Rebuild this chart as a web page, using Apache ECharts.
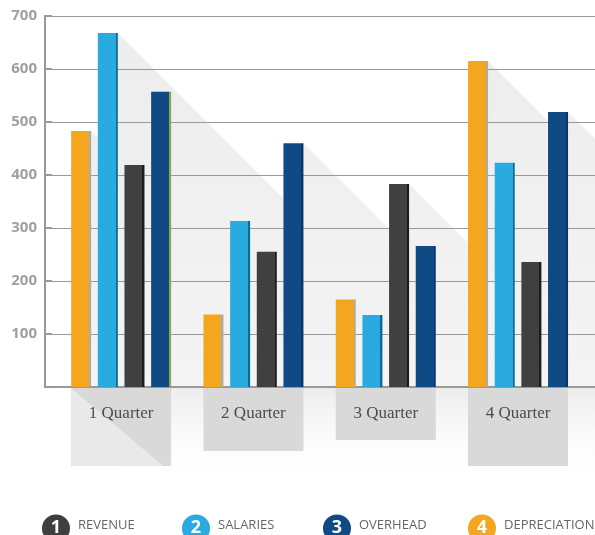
<!DOCTYPE html>
<html>
<head>
<meta charset="utf-8">
<script src="https://cdn.jsdelivr.net/npm/echarts@6/dist/echarts.min.js"></script>
<style>
html,body{margin:0;padding:0;background:#fff;}
#chart{width:595px;height:535px;}
</style>
</head>
<body>
<div id="chart"></div>
<script>
// ---- data ----
var categories = ['1 Quarter', '2 Quarter', '3 Quarter', '4 Quarter'];
var depreciation = [483, 137, 165, 615];
var salaries = [668, 313, 136, 423];
var revenue = [419, 255, 383, 236];
var overhead = [557, 460, 266, 519];
var yTicks = [0, 100, 200, 300, 400, 500, 600, 700];
var legendNames = ['REVENUE', 'SALARIES', 'OVERHEAD', 'DEPRECIATION'];

// ---- styles ----
var barOrder = [
  { name: 'DEPRECIATION', data: depreciation, color: '#F4A61F', side: '#ababab' },
  { name: 'SALARIES', data: salaries, color: '#29ABE2', side: '#0d6a92' },
  { name: 'REVENUE', data: revenue, color: '#404040', side: '#1c1c1c' },
  { name: 'OVERHEAD', data: overhead, color: '#0F4A84', side: '#0a3566' }
];
var legendColors = { REVENUE: '#3f3f3f', SALARIES: '#29ABE2', OVERHEAD: '#0F4A84', DEPRECIATION: '#F4A61F' };
var legendLeft = [56, 196, 337, 482];
var BAR_W = 20, BAR_GAP = 20 / 3;
var boxDepth = [78, 63, 52, 78];
var boxFold = [true, false, false, false];

function sideGrad(c, s) {
  return { type: 'linear', x: 0, y: 0, x2: 1, y2: 0,
    colorStops: [{ offset: 0, color: c }, { offset: 0.9, color: c }, { offset: 0.9, color: s }, { offset: 1, color: s }] };
}

var shadowData = [];
barOrder.forEach(function (b, s) {
  b.data.forEach(function (v, i) { shadowData.push([i, v, s]); });
});

var series = [];
series.push({
  name: 'shadow', type: 'custom', xAxisIndex: 1, yAxisIndex: 1, z: -1, clip: false, silent: true,
  data: shadowData,
  renderItem: function (params, api) {
    var i = api.value(0), v = api.value(1), s = api.value(2);
    var top = api.coord([i, v]);
    var base = api.coord([i, 0]);
    var off = (s - 1.5) * (BAR_W + BAR_GAP);
    var xr = top[0] + off + BAR_W / 2;
    var h = base[1] - top[1];
    return {
      type: 'polygon',
      shape: { points: [[xr, top[1]], [xr + h, base[1]], [xr, base[1]]] },
      style: { fill: { type: 'linear', x: 0, y: 16, x2: 0, y2: 387, global: true,
        colorStops: [{ offset: 0, color: '#ececec' }, { offset: 1, color: '#f4f4f4' }] } }
    };
  }
});
series.push({
  name: 'boxes', type: 'custom', xAxisIndex: 1, yAxisIndex: 1, z: 1, clip: false, silent: true,
  data: categories.map(function (c, i) { return [i, 0]; }),
  renderItem: function (params, api) {
    var i = api.value(0);
    var p = api.coord([i, 0]);
    var x0 = p[0] - 50, y0 = p[1] + 1, d = boxDepth[i];
    var children = [{
      type: 'rect', shape: { x: x0, y: y0, width: 100, height: d },
      style: { fill: '#d9d9d9' }
    }];
    if (boxFold[i]) {
      children.push({
        type: 'polygon', shape: { points: [[x0, y0], [x0 + 92, y0 + d], [x0, y0 + d]] },
        style: { fill: '#e9e9e9' }
      });
    }
    children.push({
      type: 'text', x: p[0], y: y0 + 26,
      style: { text: categories[i], align: 'center', verticalAlign: 'middle',
        fontFamily: 'Liberation Serif', fontSize: 17, fill: '#4d4d4d' }
    });
    return { type: 'group', children: children };
  }
});
barOrder.forEach(function (b, s) {
  series.push({
    name: b.name, type: 'bar', xAxisIndex: 1, yAxisIndex: 1,
    barWidth: BAR_W, barGap: '33.3%',
    itemStyle: { color: sideGrad(b.color, b.side) },
    data: b.data.map(function (v, i) {
      if (b.name === 'OVERHEAD' && i === 0) {
        return { value: v, itemStyle: { color: sideGrad(b.color, '#8aa84b') } };
      }
      return v;
    })
  });
});

var graphics = [{
  type: 'rect', z: -10, silent: true,
  shape: { x: 120, y: 388, width: 475, height: 95 },
  style: { fill: { type: 'linear', x: 0, y: 0, x2: 0, y2: 1,
    colorStops: [{ offset: 0, color: '#ececec' }, { offset: 1, color: 'rgba(255,255,255,0)' }] } }
}];
legendNames.forEach(function (n, i) {
  graphics.push({
    type: 'group', x: legendLeft[i], y: 528.5,
    children: [
      { type: 'circle', shape: { cx: 0, cy: 0, r: 14 }, style: { fill: legendColors[n] } },
      { type: 'text', x: 0, y: -1, style: { text: String(i + 1), align: 'center', verticalAlign: 'middle',
        fill: '#fff', fontFamily: 'Open Sans', fontWeight: 'bold', fontSize: 18 } },
      { type: 'text', x: 22, y: -3, style: { text: n, align: 'left', verticalAlign: 'middle',
        fill: '#666', fontFamily: 'Open Sans', fontSize: 13 } }
    ]
  });
});

var option = {
  animation: false,
  graphic: graphics,
  grid: [
    { left: 45, right: 0, top: 16, bottom: 148 },
    { left: 55, right: 10.8, top: 16, bottom: 148 }
  ],
  xAxis: [
    { type: 'value', gridIndex: 0, min: 0, max: 1,
      axisLine: { show: true, lineStyle: { color: '#999', width: 2 } },
      axisTick: { show: false }, axisLabel: { show: false }, splitLine: { show: false } },
    { type: 'category', gridIndex: 1, data: categories, show: false }
  ],
  yAxis: [
    { type: 'value', gridIndex: 0, min: yTicks[0], max: yTicks[yTicks.length - 1], interval: 100,
      axisLine: { show: true, lineStyle: { color: '#999', width: 2 } },
      axisTick: { show: true, inside: true, length: 7, lineStyle: { color: '#999', width: 2 } },
      axisLabel: { margin: 8, color: '#a0a0a0', fontFamily: 'Open Sans', fontWeight: 'bold', fontSize: 15,
        formatter: function (v) { return v === 0 ? '' : String(v); } },
      splitLine: { show: true, lineStyle: { color: '#999', width: 1 } } },
    { type: 'value', gridIndex: 1, min: yTicks[0], max: yTicks[yTicks.length - 1], interval: 100,
      show: false, splitLine: { show: false } }
  ],
  series: series
};

var chart = echarts.init(document.getElementById('chart'), null, { renderer: 'canvas' });
chart.setOption(option);
</script>
</body>
</html>
